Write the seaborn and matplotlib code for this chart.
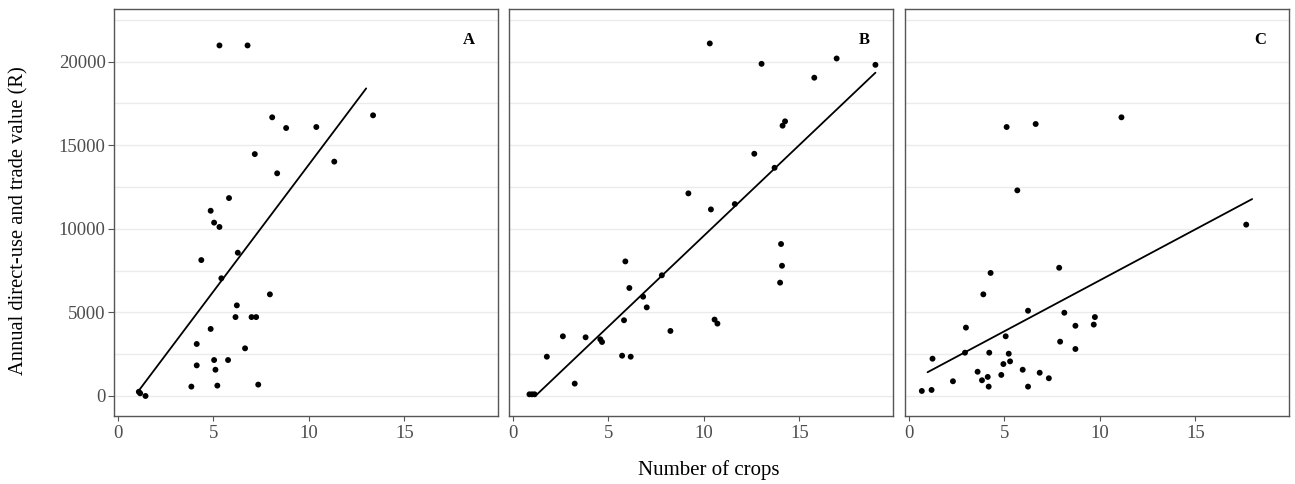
import matplotlib
matplotlib.use("Agg")
import matplotlib.pyplot as plt
import seaborn as sns
import pandas as pd
import numpy as np

# ---------------- data ----------------
a_x = [5.32, 6.79, 8.08, 8.81, 10.39, 13.36, 7.17, 11.33, 8.34, 5.82, 4.86, 5.04, 5.32,
       4.37, 6.28, 5.42, 7.96, 6.23, 6.16, 7.00, 7.24, 4.86, 4.13, 6.66, 5.04, 5.77,
       4.13, 5.11, 3.85, 5.21, 7.35, 1.17, 1.10, 1.45]
a_y = [20970, 20970, 16670, 16030, 16090, 16790, 14470, 14020, 13320, 11840, 11080, 10370, 10110,
       8130, 8570, 7040, 6080, 5420, 4720, 4720, 4720, 4010, 3110, 2850, 2150, 2150,
       1830, 1570, 560, 620, 680, 160, 250, 0]
a_fit_x = [1.05, 13.0]
a_fit_y = [250, 18400]

b_x = [10.31, 13.02, 16.95, 18.98, 15.78, 14.25, 14.12, 12.64, 13.70, 9.19, 10.37, 11.62,
       14.04, 14.09, 13.99, 5.89, 6.10, 7.80, 6.82, 7.01, 5.82, 8.25, 10.56, 10.71,
       2.62, 3.81, 4.58, 4.67, 1.78, 5.72, 6.17, 3.24, 0.87, 1.01, 1.14]
b_y = [21090, 19870, 20190, 19810, 19040, 16430, 16170, 14490, 13650, 12120, 11160, 11480,
       9090, 7790, 6780, 8050, 6460, 7220, 5940, 5300, 4530, 3890, 4570, 4330,
       3570, 3510, 3390, 3230, 2350, 2410, 2350, 740, 100, 100, 100]
b_fit_x = [0.90, 1.27, 18.98]
b_fit_y = [100, 100, 19340]

c_x = [5.12, 6.64, 11.13, 5.68, 17.66, 7.87, 4.28, 3.90, 6.24, 8.14, 9.74, 9.68, 8.72,
       2.99, 5.07, 7.92, 8.72, 1.24, 2.94, 4.21, 5.23, 5.30, 4.95, 3.60, 5.96, 6.85,
       7.33, 4.84, 2.31, 3.83, 4.13, 4.18, 6.24, 0.68, 1.19]
c_y = [16090, 16270, 16670, 12300, 10250, 7670, 7360, 6080, 5100, 4980, 4720, 4270, 4200,
       4090, 3570, 3250, 2810, 2230, 2590, 2590, 2530, 2070, 1910, 1450, 1570, 1390,
       1060, 1260, 880, 940, 1140, 560, 560, 300, 360]
c_fit_x = [0.98, 17.97]
c_fit_y = [1420, 11780]

panel_labels = ["A", "B", "C"]
y_ticks = [0, 5000, 10000, 15000, 20000]
x_ticks = [0, 5, 10, 15]

# ---------------- style ----------------
sns.set_theme(style="white")
plt.rcParams['font.family'] = ['Liberation Serif', 'DejaVu Serif']

W, H = 1295, 484
fig = plt.figure(figsize=(W / 100, H / 100), dpi=100)

lefts = [114, 509, 905]
top_px, bot_px = 9, 415.7
width_px = 384

panels = [(a_x, a_y, a_fit_x, a_fit_y), (b_x, b_y, b_fit_x, b_fit_y), (c_x, c_y, c_fit_x, c_fit_y)]
grid_color = "#EBEBEB"
frame_color = "#555555"
tick_color = "#4D4D4D"

for i, (px, py, fx, fy) in enumerate(panels):
    ax = fig.add_axes([lefts[i] / W, 1 - bot_px / H, width_px / W, (bot_px - top_px) / H])
    pts = pd.DataFrame({"x": px, "y": py})
    fit = pd.DataFrame({"x": fx, "y": fy})
    for g in np.arange(0, 22501, 2500):
        ax.axhline(g, color=grid_color, lw=1.0, zorder=0)
    sns.lineplot(data=fit, x="x", y="y", ax=ax, color="black", lw=1.3, zorder=3,
                 estimator=None, sort=False)
    sns.scatterplot(data=pts, x="x", y="y", ax=ax, color="black", s=18, edgecolor="none",
                    zorder=4)
    ax.set_xlim(-0.2, 19.9)
    ax.set_ylim(-1180, 23150)
    ax.set_xticks(x_ticks)
    ax.set_xticklabels([str(t) for t in x_ticks])
    ax.set_yticks(y_ticks)
    if i == 0:
        ax.set_yticklabels([str(t) for t in y_ticks])
        ax.tick_params(axis="y", left=True, length=4, width=0.8, color=frame_color,
                       labelsize=13.5, labelcolor=tick_color, pad=2)
    else:
        ax.tick_params(axis="y", left=False, labelleft=False)
    ax.tick_params(axis="x", bottom=True, length=3.5, width=0.8, color=frame_color,
                   labelsize=13.5, labelcolor=tick_color, pad=3)
    ax.set_xlabel("")
    ax.set_ylabel("")
    for sp in ax.spines.values():
        sp.set_visible(True)
        sp.set_color(frame_color)
        sp.set_linewidth(1.0)
    ax.text(18.4, 21300, panel_labels[i], fontsize=12, fontweight="bold", ha="center",
            va="center", color="black", zorder=5,
            bbox=dict(facecolor="white", edgecolor="none", pad=4))

fig.text(19 / W, 1 - 221 / H, "Annual direct-use and trade value (R)", rotation=90,
         ha="center", va="center", fontsize=14.8, color="black")
fig.text(709 / W, 1 - 470 / H, "Number of crops", ha="center", va="center", fontsize=15,
         color="black")

fig.savefig("out.png", dpi=100)
